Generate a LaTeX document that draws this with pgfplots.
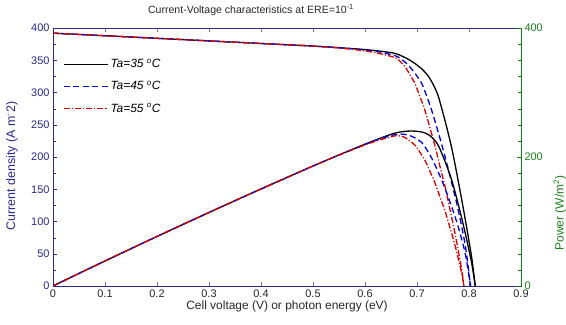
\documentclass[border=0pt]{standalone}
\usepackage{fontspec}
\setmainfont{Liberation Sans}
\usepackage{pgfplots}
\pgfplotsset{compat=1.18}
\definecolor{navy}{rgb}{0.16,0.16,0.55}
\definecolor{pgreen}{rgb}{0.1,0.5,0.1}
\definecolor{cblue}{rgb}{0,0,0.9}
\definecolor{cred}{rgb}{0.87,0,0}
\begin{document}
\begin{tikzpicture}
\useasboundingbox (-53bp,-39bp) rectangle (513bp,286bp);
\begin{axis}[
  at={(0,0)}, anchor=south west, scale only axis,
  width=468bp, height=258bp,
  xmin=0, xmax=0.9, ymin=0, ymax=400,
  font=\fontsize{11}{13}\selectfont,
  /pgf/number format/assume math mode=true,
  xtick={0,0.1,0.2,0.3,0.4,0.5,0.6,0.7,0.8,0.9},
  xticklabels={0,0.1,0.2,0.3,0.4,0.5,0.6,0.7,0.8,0.9},
  ytick={0,50,...,400}, minor y tick num=1,
  ytick pos=left, xtick pos=both,
  tick align=inside, major tick length=4bp, minor tick length=2.5bp,
  y axis line style={navy}, ytick style={navy}, yticklabel style={navy},
  minor y tick style={navy},
  xticklabel style={black!85},
  xlabel={Cell voltage (V) or photon energy (eV)},
  xlabel style={at={(axis description cs:0.5,-0.078)}, anchor=center, black!85, font=\fontsize{12}{14}\selectfont},
  ylabel={Current density (A m\textsuperscript{-}2)},
  ylabel style={at={(axis description cs:-0.088,0.465)}, anchor=center, navy, font=\fontsize{12.5}{14}\selectfont},
  every axis title shift=0pt,
  title={Current-Voltage characteristics at ERE=10\textsuperscript{-1}},
  title style={at={(axis description cs:0.423,1.07)}, anchor=center, black!85, font=\fontsize{10.6}{13}\selectfont},
  legend style={at={(0.015,0.895)}, anchor=north west, draw=none, fill=none,
    row sep=8bp, font=\fontsize{12}{14}\selectfont\itshape},
  legend cell align=left,
  legend image code/.code={\draw[#1] (0bp,0bp) -- (44bp,0bp);},
]
\addplot[color=black, draw=black, line width=1.3bp, smooth] coordinates {
(0,392) (0.05,390) (0.1,388) (0.15,386) (0.2,384) (0.25,382) (0.3,380) (0.35,378)
(0.4,376) (0.45,374) (0.5,372) (0.55,369.5) (0.6,366.5) (0.63,364) (0.658,360.5)
(0.68,353) (0.696,345) (0.71,336) (0.722,325) (0.732,311) (0.741,294) (0.754,256)
(0.767,213) (0.779,164) (0.792,107) (0.805,45) (0.812,0)};
\addlegendentry{Ta=35 \textsuperscript{o}C}
\addplot[color=cblue, draw=cblue, line width=1.3bp, dash pattern=on 6bp off 3.5bp, smooth] coordinates {
(0,392) (0.05,390) (0.1,388) (0.15,386) (0.2,384) (0.25,382) (0.3,380) (0.35,378)
(0.4,376) (0.45,374) (0.5,372) (0.55,369.3) (0.6,366) (0.63,362.5) (0.658,357)
(0.67,351.5) (0.683,342.6) (0.696,330) (0.709,314) (0.718,296) (0.728,273) (0.737,249)
(0.747,221) (0.757,191) (0.767,159) (0.777,126) (0.786,92) (0.794,57) (0.803,0)};
\addlegendentry{Ta=45 \textsuperscript{o}C}
\addplot[color=cred, draw=cred, line width=1.3bp, dash pattern=on 6bp off 2bp on 1.2bp off 2bp, smooth] coordinates {
(0,392) (0.05,390) (0.1,388) (0.15,386) (0.2,384) (0.25,382) (0.3,380) (0.35,378)
(0.4,376) (0.45,374) (0.5,372) (0.55,369) (0.6,364.5) (0.63,360) (0.658,354)
(0.668,348) (0.677,340) (0.686,328) (0.696,314) (0.705,295) (0.715,273) (0.725,245)
(0.735,216) (0.744,186) (0.754,154) (0.763,120) (0.773,82) (0.786,25) (0.790,0)};
\addlegendentry{Ta=55 \textsuperscript{o}C}
\end{axis}
\begin{axis}[
  at={(0,0)}, anchor=south west, scale only axis,
  width=468bp, height=258bp,
  xmin=0, xmax=0.9, ymin=0, ymax=400,
  font=\fontsize{11}{13}\selectfont,
  /pgf/number format/assume math mode=true,
  axis x line=none, axis y line*=right,
  ytick={0,200,400}, minor ytick={25,50,...,375},
  tick align=inside, major tick length=4bp, minor tick length=2.5bp,
  y axis line style={pgreen}, ytick style={pgreen}, minor y tick style={pgreen},
  yticklabel style={pgreen},
  ylabel={Power (W/m\textsuperscript{2})},
  ylabel style={at={(axis description cs:1.083,0.283)}, anchor=center, rotate=0, pgreen, font=\fontsize{12}{14}\selectfont},
]
\addplot[color=black, line width=1.3bp, smooth] coordinates {
(0,0) (0.05,19.5) (0.1,38.8) (0.15,57.9) (0.2,76.8) (0.25,95.5) (0.3,114) (0.35,132.3)
(0.4,150.4) (0.45,168.3) (0.5,186) (0.55,203.2) (0.6,219.9) (0.63,229.3) (0.658,237.2)
(0.68,240.0) (0.696,240.1) (0.71,238.6) (0.722,234.7) (0.732,227.7) (0.741,217.9)
(0.754,193.0) (0.767,163.4) (0.779,127.8) (0.792,84.7) (0.805,36.2) (0.812,0)};
\addplot[color=cblue, line width=1.3bp, dash pattern=on 6bp off 3.5bp, smooth] coordinates {
(0,0) (0.05,19.5) (0.1,38.8) (0.15,57.9) (0.2,76.8) (0.25,95.5) (0.3,114) (0.35,132.3)
(0.4,150.4) (0.45,168.3) (0.5,186) (0.55,203.1) (0.6,219.6) (0.63,228.4) (0.658,234.9)
(0.67,235.5) (0.683,234.0) (0.696,229.7) (0.709,222.6) (0.718,212.5) (0.728,198.7)
(0.737,183.5) (0.747,165.1) (0.757,144.6) (0.767,122.0) (0.777,97.9) (0.786,72.3)
(0.794,45.3) (0.803,0)};
\addplot[color=cred, line width=1.3bp, dash pattern=on 6bp off 2bp on 1.2bp off 2bp, smooth] coordinates {
(0,0) (0.05,19.5) (0.1,38.8) (0.15,57.9) (0.2,76.8) (0.25,95.5) (0.3,114) (0.35,132.3)
(0.4,150.4) (0.45,168.3) (0.5,186) (0.55,203) (0.6,218.7) (0.63,226.8) (0.658,232.9)
(0.668,232.5) (0.677,230.2) (0.686,225.0) (0.696,218.5) (0.705,208.0) (0.715,195.2)
(0.725,177.6) (0.735,158.8) (0.744,138.4) (0.754,116.1) (0.763,91.6) (0.773,63.4)
(0.786,19.7) (0.790,0)};
\end{axis}
\end{tikzpicture}
\end{document}
